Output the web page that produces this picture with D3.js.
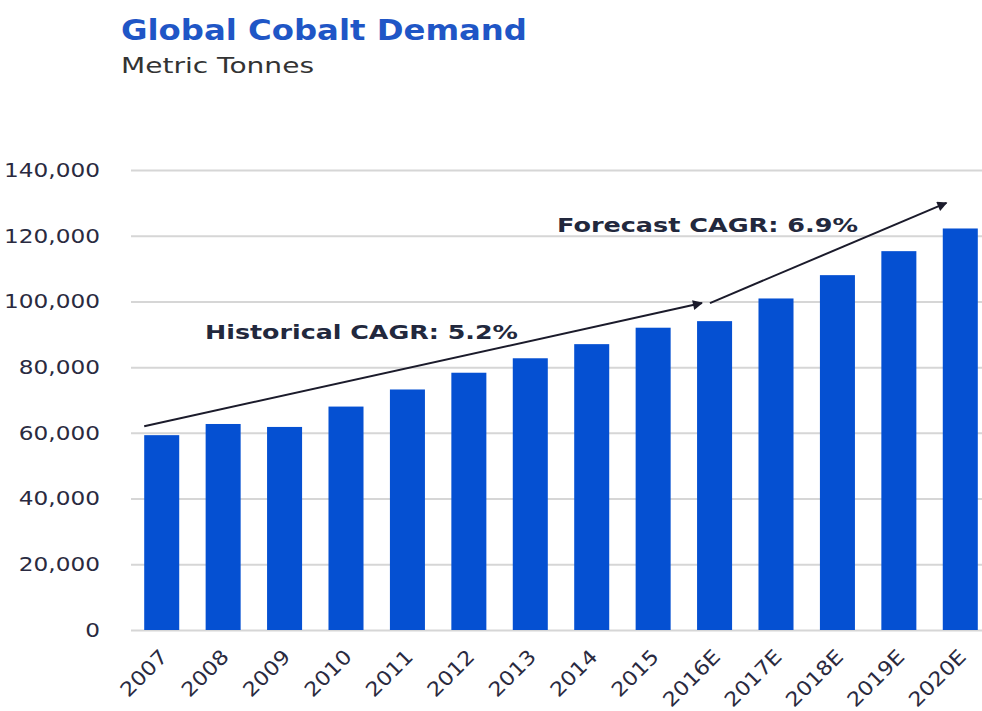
<!DOCTYPE html>
<html>
<head>
<meta charset="utf-8">
<script src="https://cdn.jsdelivr.net/npm/d3@7"></script>
<style>
  html, body { margin: 0; padding: 0; background: #fff; }
  svg { display: block; }
</style>
</head>
<body>
<svg id="chart" width="982" height="711"></svg>
<script>
// Global cobalt demand, metric tonnes
const years = ["2007", "2008", "2009", "2010", "2011", "2012", "2013", "2014", "2015",
               "2016E", "2017E", "2018E", "2019E", "2020E"];
const demand = [59300, 62700, 61800, 68000, 73200, 78300, 82700, 87000, 92000,
                94000, 100900, 108000, 115300, 122200];
const yTicks = [0, 20000, 40000, 60000, 80000, 100000, 120000, 140000];

// Trend arrows: [category, offset within band (0..1), value]
const histArrow = [["2007", 0.0, 62000], ["2016E", 0.08, 99500]];
const foreArrow = [["2016E", 0.21, 99500], ["2020E", 0.06, 130000]];
const histLabel = "Historical CAGR: 5.2%";
const foreLabel = "Forecast CAGR: 6.9%";

const FONT = "DejaVu Sans, Verdana, sans-serif";
const svg = d3.select("#chart");
const margin = { left: 131, right: -9, top: 170, bottom: 81 };
const W = 982, H = 711;

// Widen glyphs horizontally by factor k (the typeface here is set wide)
function stretch(sel, k) {
  sel.each(function () {
    const w = this.getComputedTextLength();
    d3.select(this).attr("textLength", w * k).attr("lengthAdjust", "spacingAndGlyphs");
  });
}

const x = d3.scaleBand()
  .domain(years)
  .range([margin.left, W - margin.right])
  .paddingInner(0.43)
  .paddingOuter(0.215);

const y = d3.scaleLinear()
  .domain([0, 140000])
  .range([H - margin.bottom, margin.top]);

// Title
svg.append("text")
  .attr("x", 121).attr("y", 40)
  .attr("font-family", FONT)
  .attr("font-weight", "bold")
  .attr("font-size", 28)
  .attr("fill", "#1f56c6")
  .attr("textLength", 406)
  .attr("lengthAdjust", "spacingAndGlyphs")
  .text("Global Cobalt Demand");

svg.append("text")
  .attr("x", 121).attr("y", 73)
  .attr("font-family", FONT)
  .attr("font-size", 22)
  .attr("fill", "#333")
  .attr("textLength", 193)
  .attr("lengthAdjust", "spacingAndGlyphs")
  .text("Metric Tonnes");

// Gridlines and value axis
const yAxis = d3.axisLeft(y)
  .tickValues(yTicks)
  .tickFormat(d3.format(","))
  .tickSize(-(W - margin.left))
  .tickPadding(31);

const gy = svg.append("g")
  .attr("transform", `translate(${margin.left},0)`)
  .call(yAxis);
gy.select(".domain").remove();
gy.selectAll(".tick line").attr("stroke", "#d6d6d6").attr("stroke-width", 2);
gy.selectAll(".tick text")
  .attr("font-family", FONT)
  .attr("font-size", 20)
  .attr("fill", "#2a2a40")
  .call(stretch, 1.16);

// Bars
svg.append("g").selectAll("rect")
  .data(years.map((c, i) => ({ c, v: demand[i] })))
  .join("rect")
  .attr("x", d => x(d.c))
  .attr("width", x.bandwidth())
  .attr("y", d => y(d.v))
  .attr("height", d => y(0) - y(d.v))
  .attr("fill", "#0550d2");

// Category axis with rotated labels
const xAxis = d3.axisBottom(x).tickSize(0).tickPadding(0);
const gx = svg.append("g")
  .attr("transform", `translate(0,${y(0)})`)
  .call(xAxis);
gx.select(".domain").remove();
gx.selectAll(".tick text")
  .attr("font-family", FONT)
  .attr("font-size", 20)
  .attr("fill", "#2a2a40")
  .attr("text-anchor", "end")
  .attr("y", 0)
  .attr("dy", 0)
  .attr("transform", "translate(7,28) rotate(-45)")
  .call(stretch, 1.12);

// Arrow marker
svg.append("defs").append("marker")
  .attr("id", "arrowhead")
  .attr("viewBox", "0 0 10 10")
  .attr("refX", 9).attr("refY", 5)
  .attr("markerWidth", 13).attr("markerHeight", 10)
  .attr("markerUnits", "userSpaceOnUse")
  .attr("orient", "auto")
  .append("path")
  .attr("d", "M0,0 L10,5 L0,10 Z")
  .attr("fill", "#1b1b2b");

const px = p => x(p[0]) + p[1] * x.step();
const line = d3.line().x(px).y(p => y(p[2]));

[histArrow, foreArrow].forEach(a => {
  svg.append("path")
    .attr("d", line(a))
    .attr("fill", "none")
    .attr("stroke", "#1b1b2b")
    .attr("stroke-width", 2)
    .attr("marker-end", "url(#arrowhead)");
});

// Trend labels
const labelStyle = sel => sel
  .attr("font-family", FONT)
  .attr("font-weight", "bold")
  .attr("font-size", 20)
  .attr("fill", "#22283d")
  .attr("lengthAdjust", "spacingAndGlyphs");

svg.append("text").attr("x", 205).attr("y", 339).call(labelStyle)
  .attr("textLength", 313).text(histLabel);
svg.append("text").attr("x", 557).attr("y", 232).call(labelStyle)
  .attr("textLength", 301).text(foreLabel);
</script>
</body>
</html>
